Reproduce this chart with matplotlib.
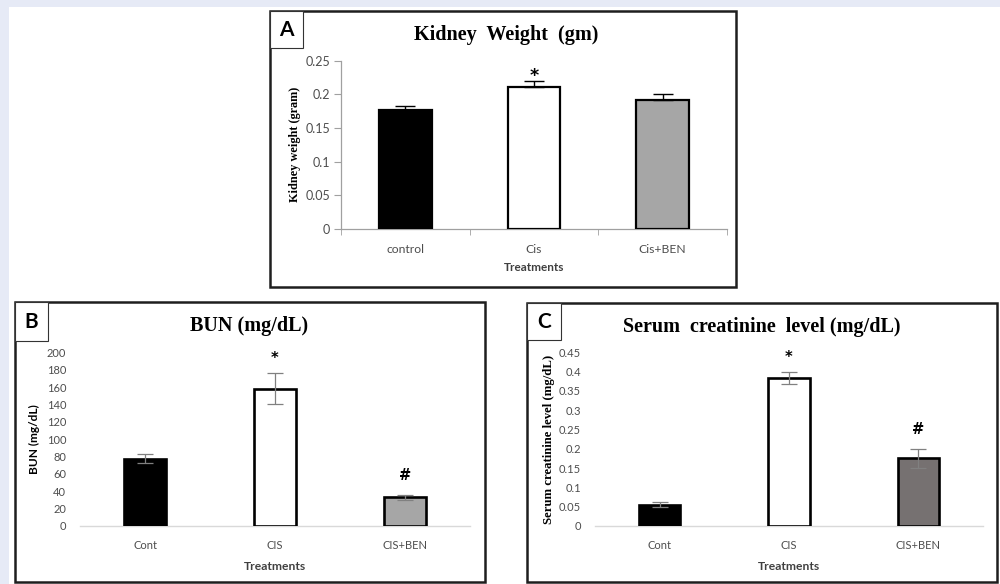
import matplotlib
matplotlib.use("Agg")
import matplotlib.pyplot as plt
from matplotlib.patches import Rectangle
import numpy as np

W, H = 1000, 584

# ---------------- data ----------------
kw_labels = ["control", "Cis", "Cis+BEN"]
kw_values = [0.177, 0.211, 0.191]
kw_err = [0.005, 0.009, 0.010]
kw_marks = ["", "*", ""]
kw_ticks = [0, 0.05, 0.1, 0.15, 0.2, 0.25]
kw_ticklabels = ["0", "0.05", "0.1", "0.15", "0.2", "0.25"]

bun_labels = ["Cont", "CIS", "CIS+BEN"]
bun_values = [77.5, 158, 33]
bun_err = [5.5, 18, 3]
bun_marks = ["", "*", "#"]
bun_ticks = [0, 20, 40, 60, 80, 100, 120, 140, 160, 180, 200]

cr_labels = ["Cont", "CIS", "CIS+BEN"]
cr_values = [0.055, 0.384, 0.175]
cr_err = [0.006, 0.015, 0.024]
cr_marks = ["", "*", "#"]
cr_ticks = [0, 0.05, 0.1, 0.15, 0.2, 0.25, 0.3, 0.35, 0.4, 0.45]
cr_ticklabels = ["0", "0.05", "0.1", "0.15", "0.2", "0.25", "0.3", "0.35", "0.4", "0.45"]

SANS = ["Lato", "DejaVu Sans"]
SERIF = ["Liberation Serif", "DejaVu Serif"]
MARKF = ["DejaVu Sans"]

fig = plt.figure(figsize=(W / 100, H / 100), dpi=100, facecolor="white")


def fx(x):
    return x / W


def fy(y):
    return 1 - y / H


def rect_px(x0, y0, x1, y1, **kw):
    r = Rectangle((fx(x0), fy(y1)), (x1 - x0) / W, (y1 - y0) / H,
                  transform=fig.transFigure, **kw)
    fig.patches.append(r)
    return r


def axes_px(x0, y0, x1, y1):
    return fig.add_axes([fx(x0), fy(y1), (x1 - x0) / W, (y1 - y0) / H])


# background strips
rect_px(0, 0, W, 7, facecolor="#e6eaf6", edgecolor="none", zorder=0)
rect_px(0, 0, 9, H, facecolor="#e6eaf6", edgecolor="none", zorder=0)

# panel frames
rect_px(270, 11, 736, 287, facecolor="none", edgecolor="#1e1e1e", lw=1.8, zorder=5)
rect_px(15, 302, 485, 582, facecolor="none", edgecolor="#1e1e1e", lw=1.8, zorder=5)
rect_px(527, 303, 997, 582, facecolor="none", edgecolor="#1e1e1e", lw=1.8, zorder=5)

# label boxes
rect_px(270, 11, 303, 48, facecolor="white", edgecolor="#333333", lw=0.8, zorder=5)
rect_px(15, 302, 48, 341, facecolor="white", edgecolor="#333333", lw=0.8, zorder=5)
rect_px(527, 303, 561, 340, facecolor="white", edgecolor="#333333", lw=0.8, zorder=5)
fig.text(fx(286.5), fy(30), "A", family=SANS, weight="bold", fontsize=15, ha="center",
         va="center", zorder=7)
fig.text(fx(31.5), fy(322), "B", family=SANS, weight="bold", fontsize=15, ha="center",
         va="center", zorder=7)
fig.text(fx(544), fy(322), "C", family=SANS, weight="bold", fontsize=15, ha="center",
         va="center", zorder=7)

# titles
fig.text(fx(506), fy(35), "Kidney  Weight  (gm)", family=SERIF, weight="bold", fontsize=14.5,
         ha="center", va="center")
fig.text(fx(249), fy(326), "BUN (mg/dL)", family=SERIF, weight="bold", fontsize=14.5,
         ha="center", va="center")
fig.text(fx(762), fy(327), "Serum  creatinine  level (mg/dL)", family=SERIF, weight="bold",
         fontsize=14.5, ha="center", va="center")

TICKC = "#4d4d4d"
MARK_OFFSET = {"*": 10, "#": 15}

# ---------------- Panel A ----------------
axA = axes_px(341, 60.7, 727, 229)
xA = np.arange(len(kw_labels))
colorsA = ["black", "white", "#a6a6a6"]
axA.bar(xA, kw_values, width=0.41, color=colorsA, edgecolor="black", linewidth=1.6, zorder=3)
axA.errorbar(xA, kw_values, yerr=[np.zeros(len(kw_err)), kw_err], fmt="none",
             ecolor="black", elinewidth=1.0, capsize=7, capthick=1.0, zorder=4)
for xi, v, e, m in zip(xA, kw_values, kw_err, kw_marks):
    if m:
        axA.annotate(m, (xi, v + e), xytext=(0, 0), textcoords="offset pixels",
                     ha="center", va="baseline", fontsize=12.5, weight="bold",
                     family=MARKF, annotation_clip=False)
axA.set_xlim(-0.5, 2.5)
axA.set_ylim(0, 0.25)
axA.set_yticks(kw_ticks)
axA.set_yticklabels(kw_ticklabels)
axA.set_xticks(xA)
axA.set_xticklabels(kw_labels)
axA.set_xticks([-0.5, 0.5, 1.5, 2.5], minor=True)
axA.tick_params(axis="x", which="major", length=0, pad=11, labelsize=8.7, labelcolor=TICKC)
axA.tick_params(axis="x", which="minor", length=4, direction="out", color="#a0a0a0")
axA.tick_params(axis="y", length=5, direction="out", color="#a0a0a0", pad=3,
                labelsize=9, labelcolor=TICKC)
for s in ["top", "right"]:
    axA.spines[s].set_visible(False)
for s in ["left", "bottom"]:
    axA.spines[s].set_color("#a0a0a0")
    axA.spines[s].set_linewidth(0.9)
axA.set_facecolor("none")
for lab in axA.get_xticklabels() + axA.get_yticklabels():
    lab.set_family(SANS)
axA.set_xlabel("Treatments", family=SANS, weight="bold", fontsize=8.5, color="#404040",
               labelpad=5)
axA.set_ylabel("Kidney weight (gram)", family=SERIF, weight="bold", fontsize=8.8, color="black",
               labelpad=3)


def excel_axes(ax, labels, values, errs, marks, colors, ylim, ticks, ticklabels, ylabel,
               ylabel_family, ylabel_size, ylabel_pad):
    x = np.arange(len(labels))
    ax.bar(x, values, width=0.32, color=colors, edgecolor="black", linewidth=1.9, zorder=3)
    ax.errorbar(x, values, yerr=errs, fmt="none", ecolor="#808080", elinewidth=0.9,
                capsize=5.5, capthick=0.9, zorder=4)
    for xi, v, e, m in zip(x, values, errs, marks):
        if m:
            ax.annotate(m, (xi, v + e), xytext=(0, MARK_OFFSET[m]), textcoords="offset pixels",
                        ha="center", va="baseline", fontsize=10.5, weight="bold",
                        family=MARKF, annotation_clip=False)
    ax.set_xlim(-0.5, len(labels) - 0.5)
    ax.set_ylim(*ylim)
    ax.set_yticks(ticks)
    ax.set_yticklabels(ticklabels)
    ax.set_xticks(x)
    ax.set_xticklabels(labels)
    ax.tick_params(axis="x", length=0, pad=10, labelsize=8, labelcolor=TICKC)
    ax.tick_params(axis="y", length=0, pad=10, labelsize=8, labelcolor=TICKC)
    for s in ["top", "right", "left"]:
        ax.spines[s].set_visible(False)
    ax.spines["bottom"].set_color("#d9d9d9")
    ax.spines["bottom"].set_linewidth(1.0)
    ax.set_facecolor("none")
    for lab in ax.get_xticklabels() + ax.get_yticklabels():
        lab.set_family(SANS)
    ax.set_xlabel("Treatments", family=SANS, weight="bold", fontsize=8.7, color="#404040",
                  labelpad=7)
    ax.set_ylabel(ylabel, family=ylabel_family, weight="bold", fontsize=ylabel_size,
                  color="black", labelpad=ylabel_pad)


# ---------------- Panel B ----------------
axB = axes_px(80, 352.3, 470, 526)
excel_axes(axB, bun_labels, bun_values, bun_err, bun_marks,
           ["black", "white", "#a6a6a6"], (0, 200), bun_ticks,
           [str(t) for t in bun_ticks], "BUN (mg/dL)", SANS, 8.6, 5)

# ---------------- Panel C ----------------
axC = axes_px(595, 352.3, 983, 526)
excel_axes(axC, cr_labels, cr_values, cr_err, cr_marks,
           ["black", "white", "#767171"], (0, 0.45), cr_ticks, cr_ticklabels,
           "Serum creatinine level (mg/dL)", SERIF, 9.2, 3)

fig.savefig("out.png", dpi=100, facecolor="white")
